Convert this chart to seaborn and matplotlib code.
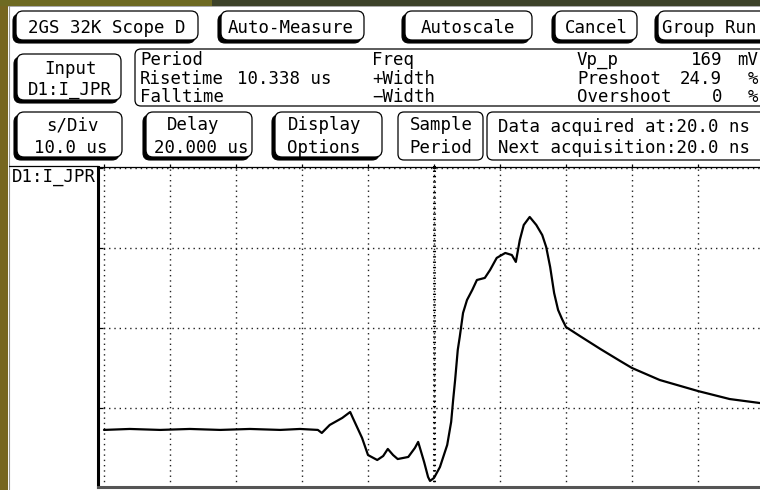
import matplotlib
matplotlib.use("Agg")
import matplotlib.pyplot as plt
from matplotlib.patches import FancyBboxPatch, Rectangle
import seaborn as sns
import pandas as pd

# ---- data (time in us, signal in mV) ----
time_us = [-30.0, -26.1, -21.5, -17.0, -12.4, -7.9, -3.3, -0.3, 2.4, 3.0, 4.2, 6.1,
           7.3, 7.7, 9.1, 10.0, 11.4, 12.3, 13.0, 13.8, 14.5, 16.1, 17.1, 17.6,
           18.5, 19.1, 19.4, 20.0, 20.9, 22.0, 22.6, 22.9, 23.2, 23.6, 23.9, 24.4,
           25.0, 25.8, 26.5, 27.7, 28.5, 29.5, 30.8, 31.8, 32.4, 33.0, 33.6, 34.5,
           35.5, 36.4, 37.0, 37.6, 38.2, 38.8, 39.4, 40.0, 42.1, 45.2, 48.2, 50.0,
           54.2, 60.0, 64.8, 69.4]
signal_mv = [36.3, 36.9, 36.3, 36.9, 36.3, 36.9, 36.3, 36.9, 36.3, 34.4, 39.4, 43.8,
             47.5, 43.8, 31.3, 20.6, 17.5, 20.0, 24.4, 20.6, 18.1, 19.4, 25.0, 28.8,
             16.3, 6.9, 4.4, 6.3, 13.1, 26.9, 41.3, 55.0, 67.5, 86.3, 94.4, 109.4,
             117.5, 123.8, 130.0, 131.3, 136.3, 143.8, 146.9, 145.6, 141.3, 155.0, 164.4, 169.4,
             164.4, 158.1, 150.6, 138.1, 121.9, 111.3, 105.6, 100.6, 95.0, 86.9, 79.4, 75.0,
             67.5, 60.6, 55.6, 53.1]
grid_time = [-30, -20, -10, 0, 10, 20, 30, 40, 50, 60, 70]
grid_mv = [50, 100, 150, 200]
trigger_time = 20

row1_buttons = ["2GS 32K Scope D", "Auto-Measure", "Autoscale", "Cancel", "Group Run"]
meas_left = ["Period", "Risetime", "Falltime"]
meas_mid = ["Freq", "+Width", "\u2212Width"]
meas_right = ["Vp_p", "Preshoot", "Overshoot"]
meas_right_vals = ["169", "24.9", "0"]
meas_right_units = ["mV", "%", "%"]
risetime_val = "10.338 us"
acq_lines = ["Data acquired at:20.0 ns", "Next acquisition:20.0 ns"]
channel = "D1:I_JPR"

sns.set_theme(style="white")
plt.rcParams['font.family'] = ['DejaVu Sans Mono']
FS = 12.5

fig = plt.figure(figsize=(7.6, 4.9), dpi=100)
fig.patch.set_facecolor('white')
ui = fig.add_axes([0, 0, 1, 1])
ui.set_xlim(0, 760)
ui.set_ylim(490, 0)
ui.axis('off')
ui.set_zorder(0)

# frame strips
ui.add_patch(Rectangle((0, 0), 8, 490, fc='#766620', ec='none'))
ui.add_patch(Rectangle((0, 0), 212, 6, fc='#6e6a22', ec='none'))
ui.add_patch(Rectangle((212, 0), 548, 6, fc='#3c4229', ec='none'))
ui.plot([8.5, 8.5], [6, 490], color='#9a9a9a', lw=0.8)
ui.plot([8, 760], [6.5, 6.5], color='#9a9a9a', lw=0.6)


def box(x0, y0, x1, y1, shadow=True, r=7):
    style = f"round,pad=0,rounding_size={r}"
    if shadow:
        ui.add_patch(FancyBboxPatch((x0 - 3, y0 + 3), x1 - x0, y1 - y0, boxstyle=style,
                                    fc='black', ec='black', lw=0.8))
    ui.add_patch(FancyBboxPatch((x0, y0), x1 - x0, y1 - y0, boxstyle=style,
                                fc='white', ec='black', lw=0.9))


def txt(x, y, s, ha='left'):
    ui.text(x, y, s, ha=ha, va='baseline', fontsize=FS, color='black', zorder=5)


# row 1 buttons
box(16, 11, 198, 40)
box(221, 11, 364, 40)
box(405, 11, 532, 40)
box(555, 11, 637, 40)
box(658, 11, 778, 40)
txt(107, 33, row1_buttons[0], 'center')
txt(291, 33, row1_buttons[1], 'center')
txt(468, 33, row1_buttons[2], 'center')
txt(596, 33, row1_buttons[3], 'center')
txt(662, 33, row1_buttons[4])

# row 2
box(17, 54, 121, 100)
txt(71, 73.5, "Input", 'center')
txt(70, 95, channel, 'center')
box(135, 49, 790, 106, shadow=False, r=6)
ys = [65, 83.5, 102]
for i in range(3):
    txt(140, ys[i], meas_left[i])
    txt(372, ys[i], meas_mid[i])
    txt(577, ys[i], meas_right[i])
    txt(722, ys[i], meas_right_vals[i], 'right')
    txt(758, ys[i], meas_right_units[i], 'right')
txt(237, 83.5, risetime_val)

# row 3
box(17, 112, 122, 157)
txt(72, 130, "s/Div", 'center')
txt(71, 153, "10.0 us", 'center')
box(146, 112, 252, 157)
txt(193, 130, "Delay", 'center')
txt(201, 153, "20.000 us", 'center')
box(275, 112, 382, 157)
txt(325, 130, "Display", 'center')
txt(324, 153, "Options", 'center')
box(398, 112, 483, 160, shadow=False, r=6)
txt(441, 130, "Sample", 'center')
txt(441, 153, "Period", 'center')
box(487, 112, 790, 160, shadow=False, r=6)
txt(498, 132, acq_lines[0])
txt(498, 153, acq_lines[1])

# label panel
ui.plot([9, 98], [166.5, 166.5], color='black', lw=0.9)
txt(12, 182, channel)
ui.add_patch(Rectangle((432.5, 165.5), 3, 3, fc='black', ec='none'))

# ---- waveform axes ----
left_px, right_px, top_px, bot_px = 98, 764, 167, 487
ax = fig.add_axes([left_px / 760, (490 - bot_px) / 490,
                   (right_px - left_px) / 760, (bot_px - top_px) / 490])
ax.set_zorder(2)
ax.set_facecolor('none')

df = pd.DataFrame({"time_us": time_us, "signal_mv": signal_mv})
sns.lineplot(data=df, x="time_us", y="signal_mv", ax=ax, color='black', lw=1.6,
             estimator=None, sort=False)

ax.set_xlim(20 + (left_px - 434) / 6.6, 20 + (right_px - 434) / 6.6)
ax.set_ylim((488 - bot_px) * 0.625, (488 - top_px) * 0.625)
ax.set_xticks(grid_time)
ax.set_yticks(grid_mv)
ax.grid(True, color='#222222', lw=1.0, linestyle=(0, (1, 2.8)))
ax.axvline(trigger_time, color='black', lw=2.2, linestyle=(0, (0.45, 1.3)), zorder=1.5)
ax.tick_params(axis='x', which='both', top=True, bottom=False, direction='out',
               length=2.5, width=0.9, color='black', labelbottom=False, labeltop=False)
ax.tick_params(axis='y', which='both', left=True, right=False, direction='in',
               length=3.6, width=0.9, color='black', labelleft=False)
ax.set_xlabel("")
ax.set_ylabel("")
for side, sp in ax.spines.items():
    sp.set_visible(True)
ax.spines['left'].set_color('black')
ax.spines['left'].set_linewidth(2.2)
ax.spines['top'].set_color('black')
ax.spines['top'].set_linewidth(0.9)
ax.spines['bottom'].set_color('#555555')
ax.spines['bottom'].set_linewidth(2.2)
ax.spines['right'].set_visible(False)
if ax.get_legend() is not None:
    ax.get_legend().remove()

fig.savefig("out.png", dpi=100, facecolor='white')
